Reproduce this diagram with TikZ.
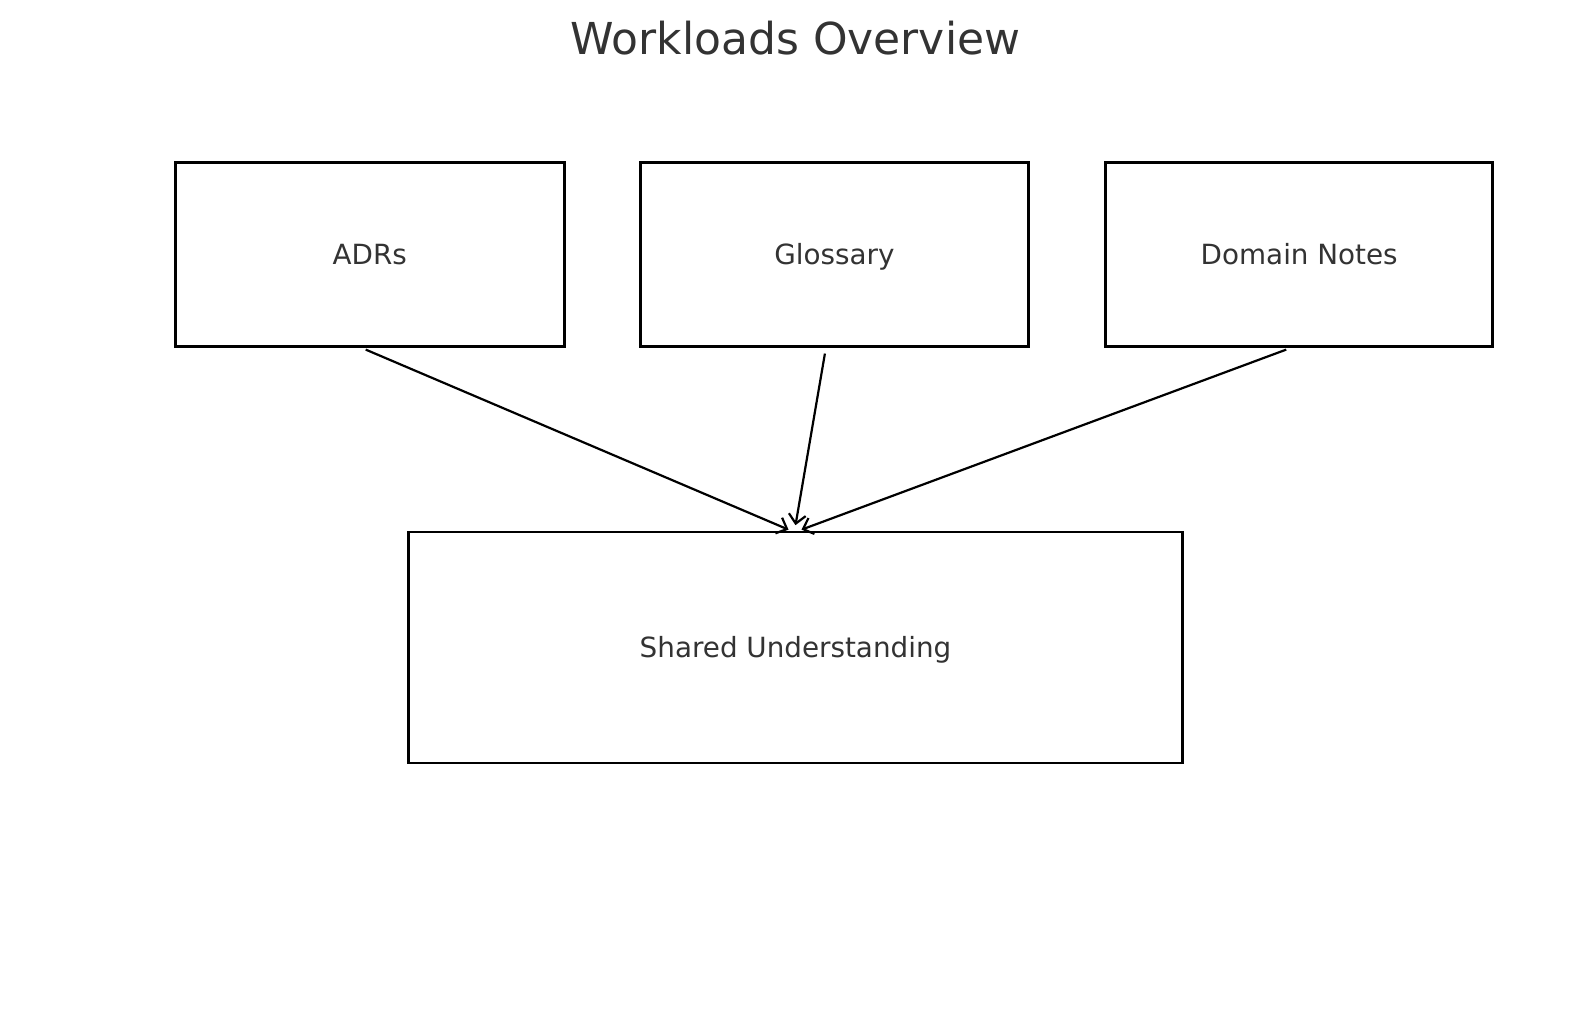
\documentclass[tikz,border=0pt]{standalone}
\usepackage{fontspec}
\setmainfont{DejaVu Sans}
\usetikzlibrary{arrows.meta}
\definecolor{txt}{HTML}{333333}
\tikzset{
  box/.style={draw=black, line width=2.7pt, fill=white, text=txt, inner sep=0pt,
    font=\fontsize{27.8}{30}\selectfont, text height=20.5pt, text depth=0pt},
  arr/.style={draw=black, line width=2.2pt, -{Straight Barb[length=9pt,width=17pt]}},
}
\begin{document}
\begin{tikzpicture}[x=1pt,y=-1pt]
\useasboundingbox (0,0) rectangle (1589,1014);
\node[text=txt, font=\fontsize{44}{50}\selectfont, anchor=base] (title) at (795.5,55) {Workloads Overview};
\node[box, minimum width=389pt, minimum height=184.5pt] (adrs) at (369.7,254.5) {ADRs};
\node[box, minimum width=388pt, minimum height=184.5pt] (gloss) at (834.5,254.5) {Glossary};
\node[box, minimum width=387pt, minimum height=184.5pt] (dom) at (1299.2,254.5) {Domain Notes};
\node[box, minimum width=774pt, minimum height=231pt] (shared) at (795.5,647.5) {Shared Understanding};
\draw[arr] ([xshift=-4pt,yshift=-1.5pt]adrs.south) -- ([xshift=-7pt,yshift=1pt]shared.north);
\draw[arr] ([xshift=-9.6pt,yshift=-5.5pt]gloss.south) -- ([yshift=5.5pt]shared.north);
\draw[arr] ([xshift=-13pt,yshift=-1.5pt]dom.south) -- ([xshift=6pt,yshift=1pt]shared.north);
\end{tikzpicture}
\end{document}
